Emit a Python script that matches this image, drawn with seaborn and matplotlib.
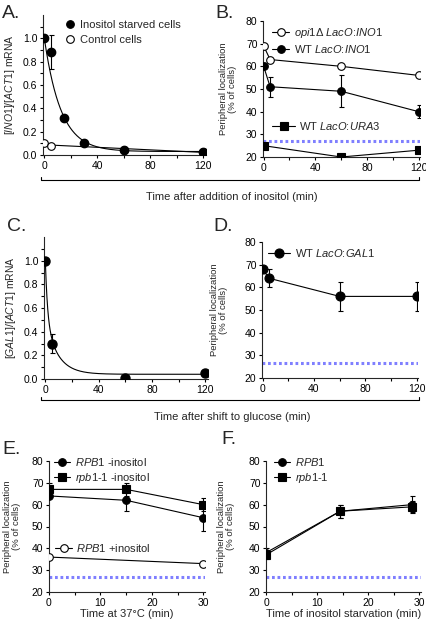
import numpy as np
import pandas as pd
import matplotlib
matplotlib.use("Agg")
import matplotlib.pyplot as plt
from matplotlib.lines import Line2D
from matplotlib.ticker import MultipleLocator
import seaborn as sns

# ---- data ----
# A: INO1 mRNA after inositol addition
a_time = [0, 5, 15, 30, 60, 120]
a_starved = [1.0, 0.88, 0.32, 0.10, 0.04, 0.03]
a_starved_err = [0, 0.145, 0, 0, 0, 0]
a_ctrl_time = [0, 5, 60, 120]
a_ctrl = [0.10, 0.08, 0.04, 0.03]
a_fit_k, a_fit_plateau = 0.08, 0.03

# B: peripheral localization after inositol addition
b_time = [0, 5, 60, 120]
b_opi1 = [69, 63, 60, 56]
b_wt_ino1 = [60, 51, 49, 40]
b_wt_ino1_err = [0, 4.5, 7, 3]
b_ura3_time = [0, 60, 120]
b_ura3 = [25, 20, 23]

# C: GAL1 mRNA after shift to glucose
c_time = [0, 5, 60, 120]
c_gal1 = [1.0, 0.30, 0.01, 0.05]
c_gal1_err = [0, 0.08, 0, 0]
# two-phase decay fit: fast and slow component plus plateau
c_fit_fast = (0.49, 0.6)
c_fit_slow = (0.47, 0.11)
c_fit_plateau = 0.04

# D: GAL1 localization
d_time = [0, 5, 60, 120]
d_gal1 = [68, 64, 56, 56]
d_gal1_err = [0, 4, 6.5, 6.5]

# E: temperature shift
e_time = [0, 15, 30]
e_rpb1 = [64, 62, 54]
e_rpb1_err = [0, 5, 6]
e_rpb11 = [67, 67, 60]
e_rpb11_err = [3, 3, 3]
e_plus_time = [0, 30]
e_rpb1_plus = [36, 33]

# F: inositol starvation
f_time = [0, 14.5, 28.5]
f_rpb1 = [38, 57, 60]
f_rpb1_err = [2, 3, 4]
f_rpb11 = [37, 57, 59]
f_rpb11_err = [2, 3, 2.5]

baseline_a_b = 27
baseline_d = 26.5

sns.set_style("ticks")
plt.rcParams["font.family"] = ["Liberation Sans", "DejaVu Sans"]
plt.rcParams["mathtext.fontset"] = "custom"
plt.rcParams["mathtext.rm"] = "Liberation Sans"
plt.rcParams["mathtext.it"] = "Liberation Sans:italic"
plt.rcParams["axes.linewidth"] = 0.8
for k in ["xtick", "ytick"]:
    plt.rcParams[f"{k}.major.width"] = 0.8
    plt.rcParams[f"{k}.minor.width"] = 0.8
    plt.rcParams[f"{k}.major.size"] = 2.5
    plt.rcParams[f"{k}.minor.size"] = 2.5
    plt.rcParams[f"{k}.labelsize"] = 7.5
    plt.rcParams[f"{k}.major.pad"] = 1.5
    plt.rcParams[f"{k}.color"] = "black"

W, H = 426, 621
fig = plt.figure(figsize=(W / 100, H / 100), dpi=100)


def px_axes(left, top, right, bottom):
    return fig.add_axes([left / W, 1 - bottom / H, (right - left) / W, (bottom - top) / H])


BLUE = "#7f7fff"
LW = 0.8
MS = 5.5


def style(ax):
    sns.despine(ax=ax)
    ax.tick_params(which="both", direction="out")


def ebar(ax, x, y, e):
    ax.errorbar(x, y, yerr=e, fmt="none", ecolor="black", elinewidth=LW, capsize=1.8, capthick=LW, zorder=2)


def series(ax, x, y, marker, filled=True, ms=MS):
    df = pd.DataFrame({"x": x, "y": y})
    sns.lineplot(data=df, x="x", y="y", ax=ax, color="black", lw=LW, marker=marker, ms=ms,
                 mfc="black" if filled else "white", mec="black", mew=LW, zorder=3)


def handle(marker, filled=True, line=True, ms=MS):
    return Line2D([], [], color="black", lw=LW if line else 0, marker=marker, ms=ms,
                  mfc="black" if filled else "white", mec="black", mew=LW)


def legend(ax, handles, labels, x, y, hl=1.5, sp=0.3, add=False):
    lg = ax.legend(handles, labels, loc="upper left", bbox_to_anchor=(x, y), frameon=False,
                   fontsize=8, handlelength=hl, handletextpad=0.4, borderpad=0,
                   borderaxespad=0, labelspacing=sp, numpoints=1)
    if add:
        ax.add_artist(lg)
    return lg


def ylab(ax, text, x, size=6.8):
    ax.set_ylabel(text, fontsize=size, linespacing=1.0)
    ax.yaxis.set_label_coords(x, 0.5)


def loc_axis(ax, xlim, xmaj, xmin):
    ax.set_xlim(*xlim)
    ax.set_ylim(20, 80)
    ax.xaxis.set_major_locator(MultipleLocator(xmaj))
    ax.xaxis.set_minor_locator(MultipleLocator(xmin))
    ax.yaxis.set_major_locator(MultipleLocator(10))
    ax.set_xlabel("")
    style(ax)


def mrna_axis(ax):
    ax.set_xlim(-1, 122)
    ax.set_ylim(0, 1.2)
    ax.set_xticks([0, 40, 80, 120])
    ax.set_xticks([20, 60, 100], minor=True)
    ax.set_yticks([0, 0.2, 0.4, 0.6, 0.8, 1.0])
    ax.set_yticks([0.1, 0.3, 0.5, 0.7, 0.9, 1.1], minor=True)
    ax.set_yticklabels([f"{v:.1f}" for v in [0, 0.2, 0.4, 0.6, 0.8, 1.0]])
    ax.set_xlabel("")
    style(ax)


# ---------- A ----------
axA = px_axes(43, 15, 206, 155)
tt = np.linspace(0, 120, 400)
sns.lineplot(x=tt, y=a_fit_plateau + (a_starved[0] - a_fit_plateau) * np.exp(-a_fit_k * tt),
             ax=axA, color="black", lw=LW)
cfit = np.polyfit(a_ctrl_time, a_ctrl, 1)
sns.lineplot(x=tt, y=np.polyval(cfit, tt), ax=axA, color="black", lw=LW)
ebar(axA, a_time, a_starved, a_starved_err)
axA.plot(a_ctrl_time, a_ctrl, "o", ms=MS, mfc="white", mec="black", mew=LW, zorder=3)
axA.plot(a_time, a_starved, "o", ms=MS + 0.5, color="black", zorder=4)
mrna_axis(axA)
ylab(axA, "[$\\it{INO1}$]/[$\\it{ACT1}$] mRNA", -0.16, size=7.5)
legend(axA, [handle("o", True, False), handle("o", False, False)],
       ["Inositol starved cells", "Control cells"], 0.13, 0.965, hl=1.0, sp=0.45)

# ---------- B ----------
axB = px_axes(263, 21, 420, 157)
axB.axhline(baseline_a_b, color=BLUE, lw=2.2, ls=(0, (0.9, 0.9)), zorder=1)
ebar(axB, b_time, b_wt_ino1, b_wt_ino1_err)
series(axB, b_time, b_opi1, "o", filled=False)
series(axB, b_time, b_wt_ino1, "o")
series(axB, b_ura3_time, b_ura3, "s")
loc_axis(axB, (-0.5, 121), 40, 20)
ylab(axB, "Peripheral localization\n(% of cells)", -0.165)
legend(axB, [handle("o", False), handle("o")],
       ["$\\it{opi1}$Δ $\\it{LacO}$:$\\it{INO1}$", "WT $\\it{LacO}$:$\\it{INO1}$"],
       0.06, 0.965, add=True)
legend(axB, [handle("s")], ["WT $\\it{LacO}$:$\\it{URA3}$"], 0.06, 0.27, hl=2.0)

# ---------- C ----------
axC = px_axes(44, 237, 208, 379)
c_curve = (c_fit_plateau + c_fit_fast[0] * np.exp(-c_fit_fast[1] * tt)
           + c_fit_slow[0] * np.exp(-c_fit_slow[1] * tt))
sns.lineplot(x=tt, y=c_curve, ax=axC, color="black", lw=LW)
ebar(axC, c_time, c_gal1, c_gal1_err)
axC.plot(c_time, c_gal1, "o", ms=MS + 1, color="black", zorder=4)
mrna_axis(axC)
ylab(axC, "[$\\it{GAL1}$]/[$\\it{ACT1}$] mRNA", -0.16, size=7.5)

# ---------- D ----------
axD = px_axes(262, 242, 418, 378)
axD.axhline(baseline_d, color=BLUE, lw=2.2, ls=(0, (0.9, 0.9)), zorder=1)
ebar(axD, d_time, d_gal1, d_gal1_err)
series(axD, d_time, d_gal1, "o", ms=MS + 1)
loc_axis(axD, (-0.5, 121), 40, 20)
ylab(axD, "Peripheral localization\n(% of cells)", -0.215)
legend(axD, [handle("o", ms=MS + 1)], ["WT $\\it{LacO}$:$\\it{GAL1}$"], 0.04, 0.965, hl=2.0)

# ---------- E ----------
axE = px_axes(49, 461, 205, 592)
axE.axhline(baseline_a_b, color=BLUE, lw=2.2, ls=(0, (0.9, 0.9)), zorder=1)
ebar(axE, e_time, e_rpb1, e_rpb1_err)
ebar(axE, e_time, e_rpb11, e_rpb11_err)
series(axE, e_time, e_rpb1, "o")
series(axE, e_time, e_rpb11, "s")
series(axE, e_plus_time, e_rpb1_plus, "o", filled=False)
loc_axis(axE, (0, 30.3), 10, 5)
axE.set_xlabel("Time at 37°C (min)", fontsize=8, labelpad=1)
ylab(axE, "Peripheral localization\n(% of cells)", -0.18)
legend(axE, [handle("o"), handle("s")],
       ["$\\it{RPB1}$ -inositol", "$\\it{rpb1}$-$\\it{1}$ -inositol"], 0.03, 1.04, add=True)
legend(axE, [handle("o", False)], ["$\\it{RPB1}$ +inositol"], 0.04, 0.385)

# ---------- F ----------
axF = px_axes(266, 461, 421, 592)
axF.axhline(baseline_a_b, color=BLUE, lw=2.2, ls=(0, (0.9, 0.9)), zorder=1)
ebar(axF, f_time, f_rpb1, f_rpb1_err)
ebar(axF, f_time, f_rpb11, f_rpb11_err)
series(axF, f_time, f_rpb1, "o")
series(axF, f_time, f_rpb11, "s")
loc_axis(axF, (0, 30.3), 10, 5)
axF.set_xlabel("Time of inositol starvation (min)", fontsize=8, labelpad=1)
ylab(axF, "Peripheral localization\n(% of cells)", -0.2)
legend(axF, [handle("o"), handle("s")], ["$\\it{RPB1}$", "$\\it{rpb1}$-$\\it{1}$"], 0.05, 1.04)

# ---------- brackets and shared labels ----------
for y, label in [(180, "Time after addition of inositol (min)"),
                 (400, "Time after shift to glucose (min)")]:
    xs = np.array([41, 41, 419, 419]) / W
    ys = 1 - np.array([y - 3, y, y, y - 3]) / H
    fig.add_artist(Line2D(xs, ys, color="black", lw=LW))
    fig.text(232 / W, 1 - (y + 17) / H, label, ha="center", va="center", fontsize=8)

for x, y, s in [(2, 13, "A."), (215, 13, "B."), (7, 226, "C."), (213, 226, "D."),
                (2, 449, "E."), (221, 440, "F.")]:
    fig.text(x / W, 1 - y / H, s, fontsize=14, ha="left", va="center")

fig.savefig("out.png", dpi=100)
